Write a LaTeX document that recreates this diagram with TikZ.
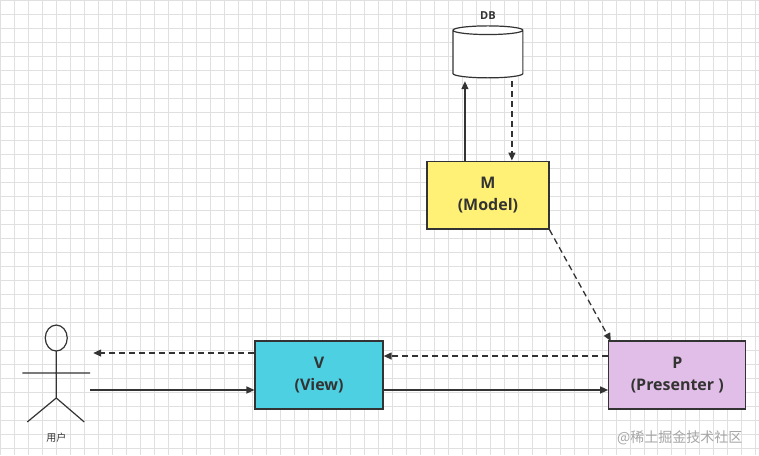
\documentclass[tikz,border=0pt]{standalone}
\usepackage{fontspec}
\setmainfont{Open Sans}
\newfontfamily\cjk{Noto Sans CJK SC}
\usetikzlibrary{arrows.meta,shapes.geometric}
\definecolor{mY}{HTML}{FFF176}
\definecolor{vC}{HTML}{4DD0E1}
\definecolor{pP}{HTML}{E1BEE7}
\tikzset{
 box/.style={draw=black!80,line width=1.3pt,minimum width=#1,minimum height=68pt,align=center,font=\bfseries\fontsize{16}{22}\selectfont,text=black!80},
 con/.style={line width=1.3pt,draw=black!80,-{Triangle[length=8pt,width=7pt]}},
 dcon/.style={con,dash pattern=on 6pt off 4pt}
}
\begin{document}
\begin{tikzpicture}[x=1pt,y=-1pt]
\fill[white](0,0) rectangle (759,455);
\foreach \i in {0,14,...,759} \draw[black!12,line width=0.6pt] (\i,0)--(\i,455);
\foreach \j in {0,14,...,455} \draw[black!12,line width=0.6pt] (0,\j)--(759,\j);
\useasboundingbox (0,0) rectangle (759,455);
\node[cylinder,shape border rotate=90,draw=black!80,line width=1.2pt,fill=white,minimum width=70pt,minimum height=52pt,aspect=1.3] (db) at (488,55) {};
\node[font=\bfseries\fontsize{11}{13}\selectfont,text=black!80] (dbl) at (488,15) {DB};
\node[box=122pt,fill=mY] (m) at (488,195) {M\\(Model)};
\node[box=128pt,fill=vC] (v) at (319,375) {V\\(View)};
\node[box=137pt,fill=pP] (p) at (677.5,375) {P\\(Presenter )};
% stick figure
\draw[black!80,line width=1.2pt] (56,338) ellipse (11 and 13);
\draw[black!80,line width=1.2pt] (22,373)--(90,373) (56,351)--(56,398) (27,422)--(56,398)--(84,422);
\coordinate (uR1) at (93,353);
\coordinate (uR2) at (90,390);
\node[font=\cjk\fontsize{10}{12}\selectfont,text=black!80] (user) at (56,438) {用户};
\draw[dcon] (v.west|-uR1) -- (uR1);
\draw[con] (uR2) -- (v.west|-uR2);
\draw[dcon] (p.west|-0,356) -- (v.east|-0,356);
\draw[con] (v.east|-0,390) -- (p.west|-0,390);
\draw[dcon] (m.south east) -- (611,341);
\draw[con] (m.north-|465,0) -- (465,81);
\draw[dcon] (512,81) -- (m.north-|512,0);
\node[font=\cjk\fontsize{14}{16}\selectfont,text=black!35] (wm) at (680,438) {@稀土掘金技术社区};
\end{tikzpicture}
\end{document}
